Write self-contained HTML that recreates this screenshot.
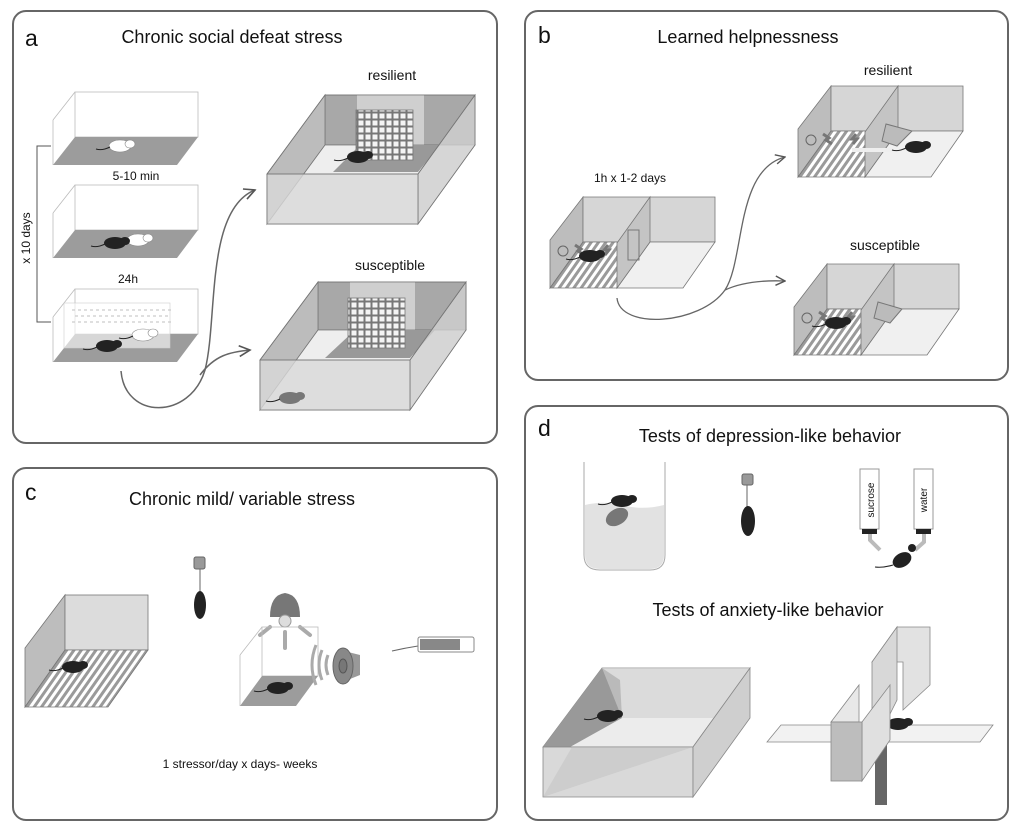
<!DOCTYPE html>
<html><head><meta charset="utf-8"><style>
html,body{margin:0;padding:0;background:#fff}
svg{display:block}
text{font-family:"Liberation Sans",sans-serif;fill:#111}
</style></head><body>
<svg width="1019" height="832" viewBox="0 0 1019 832" xmlns="http://www.w3.org/2000/svg">
<defs>
<pattern id="hatch" width="6" height="6" patternUnits="userSpaceOnUse" patternTransform="rotate(35)">
<rect width="6" height="6" fill="#fff"/><rect width="3" height="6" fill="#9a9a9a"/></pattern>
<pattern id="grid" width="7" height="7" patternUnits="userSpaceOnUse">
<rect width="7" height="7" fill="#777"/><rect x="1.5" y="1.5" width="5" height="5" fill="#f4f4f4"/></pattern>
<marker id="arr" viewBox="0 0 10 10" refX="9" refY="5" markerWidth="9" markerHeight="9" orient="auto"><path d="M1 1 L9 5 L1 9" fill="none" stroke="#555" stroke-width="1.2"/></marker>
<g id="bm"><ellipse cx="0" cy="0" rx="11" ry="6"/><ellipse cx="10" cy="-2" rx="5" ry="4"/><path d="M-10 1 Q-18 5 -24 3" fill="none" stroke="#222" stroke-width="1"/></g>
<g id="shuttle">
<polygon points="0,-48 33,-91 33,-46 0,0" fill="#bdbdbd" stroke="#777" stroke-width="0.8"/>
<polygon points="33,-91 165,-91 165,-46 33,-46" fill="#d6d6d6" stroke="#777" stroke-width="0.8"/>
<polygon points="0,0 67,0 100,-46 33,-46" fill="url(#hatch)" stroke="#777" stroke-width="0.8"/>
<polygon points="67,0 133,0 165,-46 100,-46" fill="#f0f0f0" stroke="#777" stroke-width="0.8"/>
<polygon points="67,0 67,-45 100,-91 100,-46" fill="#c4c4c4" stroke="#777" stroke-width="0.8"/>
<circle cx="13" cy="-37" r="5" fill="none" stroke="#666"/>
<path d="M25 -43 l6 4 -3 2 6 4" stroke="#777" stroke-width="3" fill="none"/>
<path d="M58 -43 l-4 5 5 0 -4 5" stroke="#777" stroke-width="3" fill="none"/>
</g>
</defs>

<rect x="13" y="11" width="484" height="432" rx="13" fill="none" stroke="#666" stroke-width="2"/>
<rect x="525" y="11" width="483" height="369" rx="13" fill="none" stroke="#666" stroke-width="2"/>
<rect x="13" y="468" width="484" height="352" rx="13" fill="none" stroke="#666" stroke-width="2"/>
<rect x="525" y="406" width="483" height="414" rx="13" fill="none" stroke="#666" stroke-width="2"/>

<text x="25" y="46" font-size="23">a</text>
<text x="232" y="43" font-size="18" text-anchor="middle">Chronic social defeat stress</text>
<text x="538" y="43" font-size="23">b</text>
<text x="748" y="43" font-size="18" text-anchor="middle">Learned helpnessness</text>
<text x="25" y="500" font-size="23">c</text>
<text x="242" y="505" font-size="18" text-anchor="middle">Chronic mild/ variable stress</text>
<text x="538" y="436" font-size="23">d</text>
<text x="770" y="442" font-size="18" text-anchor="middle">Tests of depression-like behavior</text>
<text x="768" y="616" font-size="18" text-anchor="middle">Tests of anxiety-like behavior</text>

<!-- panel a small boxes -->
<g stroke="#bbb" stroke-width="0.8" fill="none">
<rect x="75" y="92" width="123" height="45"/><line x1="53" y1="120" x2="75" y2="92"/><line x1="53" y1="120" x2="53" y2="165"/>
<rect x="75" y="185" width="123" height="45"/><line x1="53" y1="213" x2="75" y2="185"/><line x1="53" y1="213" x2="53" y2="258"/>
<rect x="75" y="289" width="123" height="45"/><line x1="53" y1="317" x2="75" y2="289"/><line x1="53" y1="317" x2="53" y2="362"/>
</g>
<polygon points="53,165 177,165 198,137 75,137" fill="#9c9c9c"/>
<polygon points="53,258 177,258 198,230 75,230" fill="#9c9c9c"/>
<polygon points="53,362 177,362 198,334 75,334" fill="#9c9c9c"/>
<rect x="64" y="303" width="106" height="45" fill="#fff" fill-opacity="0.6" stroke="#ccc" stroke-width="0.6"/>
<g fill="none" stroke="#ccc" stroke-width="1.2">
<path d="M72 310h100M75 316h95M72 322h100" stroke-dasharray="3 3"/></g>
<g fill="#fff" stroke="#888" stroke-width="0.6"><use href="#bm" x="120" y="146"/><use href="#bm" x="138" y="240"/><use href="#bm" x="143" y="335"/></g>
<g fill="#222"><use href="#bm" x="115" y="243"/><use href="#bm" x="107" y="346"/></g>
<text x="136" y="180" font-size="12" text-anchor="middle">5-10 min</text>
<text x="128" y="283" font-size="12" text-anchor="middle">24h</text>
<path d="M51 146 H37 V322 H51" fill="none" stroke="#555" stroke-width="1"/>
<text x="30" y="238" font-size="12" transform="rotate(-90 30 238)" text-anchor="middle">x 10 days</text>

<!-- resilient big box -->
<text x="392" y="80" font-size="14" text-anchor="middle">resilient</text>
<g stroke="#777" stroke-width="0.8">
<polygon points="325,95 475,95 475,145 325,145" fill="#a8a8a8"/>
<polygon points="357,95 424,95 424,145 357,145" fill="#cfcfcf" stroke="none"/>
<polygon points="267,174 325,95 325,145 267,224" fill="#bcbcbc"/>
<polygon points="267,224 418,224 475,145 325,145" fill="#eeeeee"/>
<polygon points="333,172 418,172 440,145 360,145" fill="#999" stroke="none"/>
<rect x="356" y="110" width="57" height="50" fill="url(#grid)" stroke="#777"/>
<use href="#bm" x="358" y="157" fill="#222" stroke="none"/>
<polygon points="418,174 475,95 475,145 418,224" fill="#cfcfcf" fill-opacity="0.8"/>
<polygon points="267,174 418,174 418,224 267,224" fill="#d8d8d8" fill-opacity="0.8"/>
<polygon points="325,95 475,95 418,174 267,174" fill="none"/>
</g>
<!-- susceptible -->
<text x="390" y="270" font-size="14" text-anchor="middle">susceptible</text>
<g stroke="#777" stroke-width="0.8">
<polygon points="318,282 466,282 466,330 318,330" fill="#a8a8a8"/>
<polygon points="350,282 415,282 415,330 350,330" fill="#cfcfcf" stroke="none"/>
<polygon points="260,360 318,282 318,330 260,410" fill="#bcbcbc"/>
<polygon points="260,410 410,410 466,330 318,330" fill="#eeeeee"/>
<polygon points="325,358 410,358 435,330 355,330" fill="#999" stroke="none"/>
<rect x="348" y="298" width="57" height="50" fill="url(#grid)" stroke="#777"/>
<polygon points="410,360 466,282 466,330 410,410" fill="#cfcfcf" fill-opacity="0.8"/>
<polygon points="260,360 410,360 410,410 260,410" fill="#d8d8d8" fill-opacity="0.8"/>
<polygon points="318,282 466,282 410,360 260,360" fill="none"/>
</g>
<use href="#bm" x="290" y="398" fill="#777"/>
<path d="M121 371 C125 420 190 420 205 370 C218 320 205 210 255 190" fill="none" stroke="#666" stroke-width="1.5" marker-end="url(#arr)"/>
<path d="M200 375 C215 355 230 352 250 350" fill="none" stroke="#666" stroke-width="1.5" marker-end="url(#arr)"/>

<!-- panel b -->
<text x="630" y="182" font-size="12" text-anchor="middle">1h x 1-2 days</text>
<text x="888" y="75" font-size="14" text-anchor="middle">resilient</text>
<text x="885" y="250" font-size="14" text-anchor="middle">susceptible</text>
<use href="#shuttle" x="550" y="288"/>
<use href="#shuttle" x="798" y="177"/>
<use href="#shuttle" x="794" y="355"/>
<rect x="628" y="230" width="11" height="30" fill="none" stroke="#777"/>
<polygon points="886,124 912,131 897,146 882,141" fill="#bbb" stroke="#777"/>
<polygon points="878,302 902,309 890,323 874,318" fill="#bbb" stroke="#777"/>
<path d="M852 150 h40" stroke="#eee" stroke-width="4"/>
<use href="#bm" x="916" y="147" fill="#222"/>
<use href="#bm" x="836" y="323" fill="#222"/>
<use href="#bm" x="590" y="256" fill="#222"/>
<path d="M617 298 C620 330 700 325 725 290 C745 260 735 170 785 157" fill="none" stroke="#666" stroke-width="1.3" marker-end="url(#arr)"/>
<path d="M725 290 C740 283 760 280 785 281" fill="none" stroke="#666" stroke-width="1.3" marker-end="url(#arr)"/>

<!-- panel c -->
<polygon points="25,707 25,648 65,595 65,650" fill="#bdbdbd" stroke="#777" stroke-width="0.8"/>
<rect x="65" y="595" width="83" height="55" fill="#dcdcdc" stroke="#777" stroke-width="0.8"/>
<polygon points="25,707 108,707 148,650 65,650" fill="url(#hatch)" stroke="#777" stroke-width="0.8"/>
<use href="#bm" x="73" y="667" fill="#222"/>
<rect x="194" y="557" width="11" height="12" rx="2" fill="#999" stroke="#666"/>
<line x1="200" y1="569" x2="200" y2="591" stroke="#666"/>
<ellipse cx="200" cy="605" rx="6" ry="14" fill="#222"/>
<path d="M270 617 Q270 595 285 593 Q300 595 300 617 Z" fill="#777"/>
<circle cx="285" cy="621" r="6" fill="#ddd" stroke="#999"/>
<g stroke="#aaa" stroke-width="4" stroke-linecap="round"><line x1="270" y1="627" x2="260" y2="635"/><line x1="285" y1="632" x2="285" y2="648"/><line x1="300" y1="627" x2="310" y2="635"/></g>
<g stroke="#bbb" stroke-width="0.8" fill="none"><rect x="262" y="627" width="56" height="49"/><line x1="240" y1="655" x2="262" y2="627"/><line x1="240" y1="655" x2="240" y2="706"/></g>
<polygon points="240,706 296,706 318,676 262,676" fill="#9c9c9c"/>
<use href="#bm" x="278" y="688" fill="#222"/>
<g fill="none" stroke="#aaa" stroke-width="3"><path d="M316 645 Q308 665 316 685"/><path d="M322 650 Q316 665 322 680"/><path d="M328 655 Q324 665 328 675"/></g>
<path d="M340 650 L360 655 L360 675 L340 683 Z" fill="#999"/>
<ellipse cx="343" cy="666" rx="10" ry="18" fill="#888" stroke="#666"/>
<ellipse cx="343" cy="666" rx="4" ry="7" fill="#777" stroke="#555"/>
<path d="M392 651 Q405 648 418 646" stroke="#666" fill="none"/>
<rect x="418" y="637" width="56" height="15" rx="2" fill="#fff" stroke="#888"/>
<rect x="420" y="639" width="40" height="11" fill="#888"/>
<text x="240" y="768" font-size="12" text-anchor="middle">1 stressor/day x  days-  weeks</text>

<!-- panel d -->
<path d="M584 462 V555 Q584 570 600 570 H650 Q665 570 665 555 V462" fill="#fff" stroke="#aaa"/>
<path d="M585 505 Q605 500 625 506 Q645 510 664 505 V555 Q664 569 650 569 H600 Q585 569 585 555 Z" fill="#e2e2e2"/>
<ellipse cx="617" cy="517" rx="12" ry="8" fill="#777" transform="rotate(-30 617 517)"/>
<use href="#bm" x="622" y="501" fill="#222"/>
<rect x="742" y="474" width="11" height="11" rx="2" fill="#999" stroke="#666"/>
<line x1="747" y1="485" x2="747" y2="507" stroke="#666"/>
<ellipse cx="748" cy="521" rx="7" ry="15" fill="#222"/>
<rect x="860" y="469" width="19" height="60" fill="#fff" stroke="#999"/>
<rect x="914" y="469" width="19" height="60" fill="#fff" stroke="#999"/>
<rect x="862" y="529" width="15" height="5" fill="#222"/>
<rect x="916" y="529" width="15" height="5" fill="#222"/>
<path d="M870 534 V540 L880 550 M924 534 V542 L915 550" stroke="#bbb" stroke-width="4" fill="none"/>
<text x="874" y="500" font-size="10" transform="rotate(-90 874 500)" text-anchor="middle">sucrose</text>
<text x="927" y="500" font-size="10" transform="rotate(-90 927 500)" text-anchor="middle">water</text>
<ellipse cx="902" cy="560" rx="10" ry="7" fill="#222" transform="rotate(-30 902 560)"/>
<circle cx="912" cy="548" r="4" fill="#222"/>
<path d="M893 565 Q883 568 875 567" stroke="#222" fill="none"/>
<!-- open field -->
<polygon points="602,668 750,668 693,747 543,747" fill="#ececec" stroke="#888" stroke-width="0.8"/>
<polygon points="602,668 543,747 570,747 622,718 620,680" fill="#999"/>
<polygon points="602,668 750,668 750,718 622,718" fill="#d0d0d0" fill-opacity="0.6"/>
<use href="#bm" x="608" y="716" fill="#222"/>
<polygon points="543,747 693,747 693,797 543,797" fill="#d2d2d2" fill-opacity="0.85" stroke="#888" stroke-width="0.8"/>
<polygon points="543,797 572,747 693,747" fill="#bcbcbc" fill-opacity="0.4"/>
<polygon points="693,747 750,668 750,718 693,797" fill="#cfcfcf" stroke="#888" stroke-width="0.8"/>
<!-- plus maze -->
<polygon points="767,742 781,725 993,725 980,742" fill="#f2f2f2" stroke="#888" stroke-width="0.8"/>
<rect x="875" y="742" width="12" height="63" fill="#666"/>
<polygon points="872,662 897,627 930,627 930,685 903,710 903,662" fill="#e2e2e2" stroke="#888" stroke-width="0.8"/>
<polygon points="872,662 872,735 887,720 897,700 897,627" fill="#d8d8d8" stroke="#888" stroke-width="0.8"/>
<use href="#bm" x="898" y="724" fill="#222"/>
<polygon points="831,722 859,685 859,722" fill="#e8e8e8" stroke="#888" stroke-width="0.8"/>
<polygon points="862,722 890,685 890,740 862,781" fill="#e0e0e0" stroke="#888" stroke-width="0.8"/>
<rect x="831" y="722" width="31" height="59" fill="#bdbdbd" stroke="#888" stroke-width="0.8"/>
</svg>
</body></html>
